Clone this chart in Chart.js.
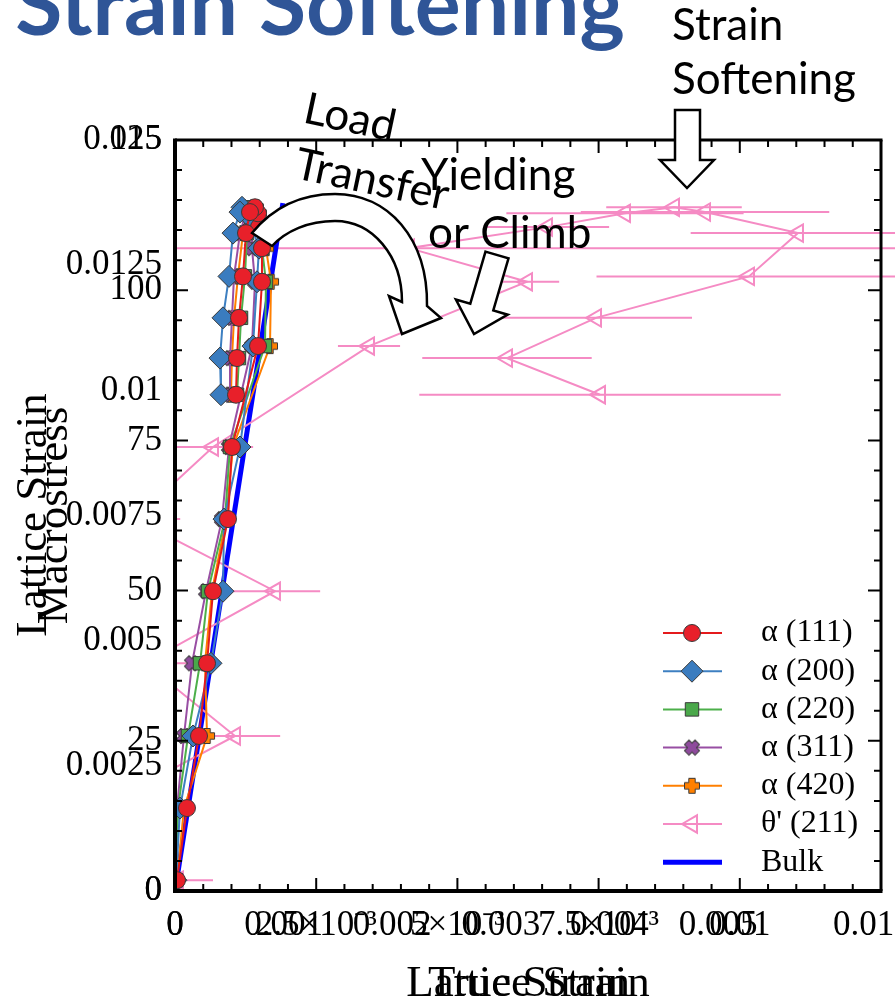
<!DOCTYPE html>
<html>
<head>
<meta charset="utf-8">
<script src="https://cdn.jsdelivr.net/npm/chart.js@4.4.1/dist/chart.umd.min.js"></script>
<style>
  html, body { margin: 0; padding: 0; background: #fff; }
</style>
</head>
<body>
<canvas id="myChart" width="895" height="1007"></canvas>
<script>
// macrostress levels shared by every diffraction peak (MPa)
const stress = [1.8, 13.8, 25.8, 37.9, 49.9, 61.9, 73.9, 90.7, 101.4, 107.0, 110.5, 112.8, 113.8, 113.0, 109.5, 102.3, 95.4, 88.7, 82.6];

// lattice strain of each peak at those stress levels
const a111 = [0.000035, 0.000212, 0.000425, 0.000567, 0.000673, 0.000938, 0.001009, 0.00147, 0.00154, 0.00154, 0.001487, 0.00147, 0.001416, 0.001328, 0.001257, 0.001204, 0.001133, 0.001098, 0.00108];
const a200 = [0.000018, 0.000089, 0.000319, 0.000637, 0.00085, 0.000868, 0.001151, 0.001381, 0.001452, 0.001487, 0.001363, 0.001257, 0.001186, 0.001151, 0.001027, 0.000956, 0.00085, 0.000797, 0.000814];
const a220 = [0.000018, 0.000053, 0.00023, 0.000443, 0.000584, 0.000885, 0.000974, 0.001593, 0.001611, 0.00154, 0.00147, 0.001434, 0.001381, 0.00131, 0.001275, 0.001239, 0.001169, 0.001133, 0.001098];
const a311 = [0.000018, 0.000035, 0.000159, 0.000301, 0.000549, 0.000832, 0.000956, 0.001363, 0.001416, 0.001363, 0.001363, 0.001328, 0.001292, 0.001257, 0.001151, 0.001045, 0.001009, 0.000974, 0.000974];
const a420 = [0.000035, 0.000159, 0.000567, 0.000531, 0.000655, 0.000903, 0.001027, 0.001682, 0.0017, 0.001611, 0.00154, 0.001487, 0.001434, 0.001363, 0.001204, 0.001115, 0.001045, 0.001009, 0.000991];
const theta211 = [0.000053, -0.001363, 0.001062, -0.000531, 0.00177, -0.000708, 0.000673, 0.003435, 0.006232, 0.004143, 0.006586, 0.007967, 0.008835, 0.009384, 0.01103, 0.010163, 0.007454, 0.005878, 0.007525];
const theta211Err = [0.00062, 0.0008, 0.0008, 0.0008, 0.0008, 0.0008, 0.00071, 0.00055, 0.00057, 0.0095, 0.0011, 0.0021, 0.0012, 0.0022, 0.0019, 0.0027, 0.0017, 0.0015, 0.0032];

// bulk elastic response
const bulkStrain = [0, 0.00191];
const bulkStress = [0, 114.5];

// tick labels
const latticeXLabels = ['0', '2.5×10⁻³', '5×10⁻³', '7.5×10⁻³', '0.01', '0.0125'];
const trueStrainLabels = ['0', '0.001', '0.002', '0.003', '0.004', '0.005', '0.006'];
const stressLabels = ['0', '25', '50', '75', '100', '125'];
const latticeYLabels = ['0', '0.0025', '0.005', '0.0075', '0.01', '0.0125', '0.015'];

const SERIF = "'Liberation Serif', 'Times New Roman', serif";
const SANS = "Lato, 'Open Sans', sans-serif";
const PINK = '#f58bc4';

const pairs = (xs, ys) => xs.map((v, i) => ({x: v, y: ys[i]}));

// filled cross / plus markers with a dark outline
function shapeMarker(fill, angle) {
  const c = document.createElement('canvas');
  c.width = 20; c.height = 20;
  const g = c.getContext('2d');
  const a = 3.2, L = 7.5;
  const pts = [[-a,-L],[a,-L],[a,-a],[L,-a],[L,a],[a,a],[a,L],[-a,L],[-a,a],[-L,a],[-L,-a],[-a,-a]];
  g.translate(10, 10);
  g.rotate(angle);
  g.beginPath();
  pts.forEach((p, i) => i ? g.lineTo(p[0], p[1]) : g.moveTo(p[0], p[1]));
  g.closePath();
  g.fillStyle = fill;
  g.fill();
  g.lineWidth = 1;
  g.strokeStyle = '#3a3a3a';
  g.stroke();
  return c;
}

function peak(label, strains, color, fill, style, radius) {
  return {
    label: label,
    data: pairs(strains, stress),
    showLine: true,
    borderColor: color,
    borderWidth: 2,
    pointStyle: style,
    pointRadius: radius,
    pointBackgroundColor: fill,
    pointBorderColor: '#3a3a3a',
    pointBorderWidth: 1
  };
}

const datasets = [
  peak('α (111)', a111, '#e41a1c', '#e8202a', 'circle', 8.5),
  peak('α (200)', a200, '#3d7fc1', '#3a7cbf', 'rectRot', 11),
  peak('α (220)', a220, '#4daf4a', '#4aa84a', 'rect', 9.5),
  peak('α (311)', a311, '#984ea3', '#8e4a9c', shapeMarker('#8e4a9c', Math.PI / 4), 8),
  peak('α (420)', a420, '#ff7f00', '#ff8000', shapeMarker('#ff8000', 0), 8),
  {
    label: "θ' (211)",
    data: pairs(theta211, stress),
    showLine: true,
    borderColor: PINK,
    borderWidth: 2,
    pointStyle: 'triangle',
    pointRotation: -90,
    pointRadius: 10,
    pointBackgroundColor: 'rgba(0,0,0,0)',
    pointBorderColor: PINK,
    pointBorderWidth: 2,
    clip: {left: 0, top: false, right: false, bottom: 0}
  },
  {
    label: 'Bulk',
    data: pairs(bulkStrain, bulkStress),
    showLine: true,
    borderColor: '#0000ff',
    borderWidth: 5,
    pointRadius: 0
  }
];

// the second x and y scales share the box of the first ones, so their labels overlap
const overlapAxes = {
  id: 'overlapAxes',
  afterLayout(chart) {
    const {x, x2, y, y2} = chart.scales;
    x2.top = x.top; x2.bottom = x.bottom; x2.height = x.height;
    y2.left = y.left; y2.right = y.right; y2.width = y.width;
  }
};

// horizontal error bars of the θ' peak, clipped only at the left axis
const errorBars = {
  id: 'errorBars',
  beforeDatasetsDraw(chart) {
    const {ctx, chartArea, scales: {x, y}} = chart;
    ctx.save();
    ctx.beginPath();
    ctx.rect(chartArea.left, 0, chart.width - chartArea.left, chart.height);
    ctx.clip();
    ctx.strokeStyle = PINK;
    ctx.lineWidth = 2;
    ctx.beginPath();
    theta211.forEach((v, i) => {
      const py = y.getPixelForValue(stress[i]);
      ctx.moveTo(x.getPixelForValue(v - theta211Err[i]), py);
      ctx.lineTo(x.getPixelForValue(v + theta211Err[i]), py);
    });
    ctx.stroke();
    ctx.restore();
  }
};

// box frame with inward tick marks on all four sides
const frame = {
  id: 'frame',
  afterDatasetsDraw(chart) {
    const {ctx, chartArea: a, scales: {x, y}} = chart;
    ctx.save();
    ctx.strokeStyle = '#000';
    ctx.lineWidth = 2;
    ctx.beginPath();
    y.ticks.forEach(t => {
      const py = y.getPixelForValue(t.value);
      const len = t.value % 25 === 0 ? 13 : 7;
      ctx.moveTo(a.left, py); ctx.lineTo(a.left + len, py);
      ctx.moveTo(a.right, py); ctx.lineTo(a.right - len, py);
    });
    x.ticks.forEach(t => {
      const px = x.getPixelForValue(t.value);
      const k = t.value / 0.0025;
      const len = Math.abs(k - Math.round(k)) < 1e-6 ? 13 : 7;
      ctx.moveTo(px, a.bottom); ctx.lineTo(px, a.bottom - len);
      ctx.moveTo(px, a.top); ctx.lineTo(px, a.top + len);
    });
    ctx.stroke();
    const side = (w, x1, y1, x2, y2) => {
      ctx.lineWidth = w;
      ctx.beginPath(); ctx.moveTo(x1, y1); ctx.lineTo(x2, y2); ctx.stroke();
    };
    side(4, a.left, a.top - 1.5, a.left, a.bottom + 2);
    side(4, a.left - 2, a.bottom, a.right + 1.5, a.bottom);
    side(3, a.left, a.top, a.right + 1.5, a.top);
    side(3, a.right, a.top, a.right, a.bottom);
    ctx.restore();
  }
};

function polygon(ctx, pts) {
  ctx.beginPath();
  pts.forEach((p, i) => i ? ctx.lineTo(p[0], p[1]) : ctx.moveTo(p[0], p[1]));
  ctx.closePath();
  ctx.fill();
  ctx.stroke();
}

// legend, second axis titles and slide call-outs
const overlay = {
  id: 'overlay',
  afterDraw(chart) {
    const {ctx} = chart;
    ctx.save();

    // legend with line + marker samples
    chart.data.datasets.forEach((ds, i) => {
      const row = 633 + i * 38.2;
      ctx.strokeStyle = ds.borderColor;
      ctx.lineWidth = ds.borderWidth;
      ctx.beginPath(); ctx.moveTo(663, row); ctx.lineTo(722, row); ctx.stroke();
      if (ds.pointRadius) {
        ctx.fillStyle = ds.pointBackgroundColor;
        ctx.strokeStyle = ds.pointBorderColor;
        ctx.lineWidth = ds.pointBorderWidth;
        Chart.helpers.drawPoint(ctx, {
          pointStyle: ds.pointStyle, rotation: ds.pointRotation || 0,
          radius: ds.pointRadius, borderWidth: ds.pointBorderWidth
        }, 692, row);
      }
      ctx.fillStyle = '#000';
      ctx.font = '32px ' + SERIF;
      ctx.textAlign = 'left';
      ctx.textBaseline = 'middle';
      ctx.fillText(ds.label, 761, row);
    });

    // titles of the overlaid strain axes
    ctx.font = '45px ' + SERIF;
    ctx.textAlign = 'center';
    ctx.textBaseline = 'middle';
    ctx.fillText('True Strain', 529, 984);
    ctx.save();
    ctx.translate(34, 515);
    ctx.rotate(-Math.PI / 2);
    ctx.fillText('Lattice Strain', 0, 0);
    ctx.restore();

    // slide heading, cut at the top edge
    ctx.fillStyle = '#2f5597';
    ctx.font = 'bold 86px ' + SANS;
    ctx.textAlign = 'right';
    ctx.textBaseline = 'alphabetic';
    ctx.fillText('Strain Softening', 625, 35);

    ctx.fillStyle = '#000';
    ctx.font = '44px ' + SANS;
    ctx.textAlign = 'left';
    ctx.fillText('Strain', 672, 40);
    ctx.fillText('Softening', 672, 94);
    ctx.fillText('Yielding', 421, 190);
    ctx.fillText('or Climb', 428, 248);

    ctx.save();
    ctx.translate(350, 118);
    ctx.rotate(12 * Math.PI / 180);
    ctx.textAlign = 'center';
    ctx.textBaseline = 'middle';
    ctx.fillText('Load', 0, 0);
    ctx.restore();
    ctx.save();
    ctx.translate(372, 180);
    ctx.rotate(12 * Math.PI / 180);
    ctx.textAlign = 'center';
    ctx.textBaseline = 'middle';
    ctx.fillText('Transfer', 0, 0);
    ctx.restore();

    // block arrows
    ctx.fillStyle = '#fff';
    ctx.strokeStyle = '#000';
    ctx.lineWidth = 2.5;
    ctx.lineJoin = 'miter';
    ctx.beginPath();
    ctx.moveTo(252, 233);
    ctx.bezierCurveTo(275, 205, 305, 194, 335, 194);
    ctx.bezierCurveTo(388, 194, 428, 238, 427, 306);
    ctx.lineTo(441, 318);
    ctx.lineTo(402, 334);
    ctx.lineTo(389, 296);
    ctx.lineTo(402, 302);
    ctx.bezierCurveTo(402, 255, 372, 221, 335, 221);
    ctx.bezierCurveTo(308, 221, 286, 231, 272, 246);
    ctx.closePath();
    ctx.fill();
    ctx.stroke();

    polygon(ctx, [[485.5, 251.6], [508.5, 258.4], [493.3, 310.5], [507.7, 314.7], [474, 334], [455.9, 299.5], [470.3, 303.7]]);
    polygon(ctx, [[675, 110], [700, 110], [700, 160], [714, 160], [687, 188], [660, 160], [675, 160]]);

    ctx.restore();
  }
};

const tickFont = {family: SERIF, size: 35};
const titleFont = {family: SERIF, size: 45, lineHeight: 1};
const noGrid = {display: false, drawTicks: false};

const fitX = h => s => { s.height = h; s.paddingLeft = 0; s.paddingRight = 0; };
const fitY = w => s => { s.width = w; s.paddingTop = 0; s.paddingBottom = 0; };

const config = {
  type: 'scatter',
  data: {datasets: datasets},
  options: {
    responsive: false,
    animation: false,
    events: [],
    layout: {padding: {top: 140, right: 14, left: 0, bottom: 0}},
    plugins: {legend: {display: false}, tooltip: {enabled: false}},
    scales: {
      x: {
        type: 'linear', position: 'bottom', weight: 1,
        min: 0, max: 0.0125,
        afterFit: fitX(116),
        grid: noGrid, border: {display: false},
        ticks: {
          stepSize: 0.0005, maxTicksLimit: 100, autoSkip: false, maxRotation: 0,
          padding: 14, font: tickFont, color: '#000',
          callback: v => {
            const k = Math.round(v / 0.0025);
            return Math.abs(v - k * 0.0025) < 1e-9 ? latticeXLabels[k] : '';
          }
        },
        title: {display: true, text: 'Lattice Strain', font: titleFont, color: '#000', padding: {top: 0, bottom: 0}}
      },
      x2: {
        type: 'linear', position: 'bottom', weight: 0,
        min: 0, max: 0.0065,
        afterFit: fitX(0),
        grid: noGrid, border: {display: false},
        ticks: {
          stepSize: 0.001, maxTicksLimit: 100, autoSkip: false, maxRotation: 0,
          padding: 14, font: tickFont, color: '#000',
          callback: v => {
            const k = Math.round(v / 0.001);
            return Math.abs(v - k * 0.001) < 1e-9 ? trueStrainLabels[k] : '';
          }
        }
      },
      y: {
        type: 'linear', position: 'left', weight: 1,
        min: 0, max: 125,
        afterFit: fitY(175),
        grid: noGrid, border: {display: false},
        ticks: {
          stepSize: 5, maxTicksLimit: 100, autoSkip: false,
          padding: 13, font: tickFont, color: '#000',
          callback: v => v % 25 === 0 ? stressLabels[v / 25] : ''
        },
        title: {display: true, text: 'Macrostress', font: titleFont, color: '#000', padding: {top: 33, bottom: 0}}
      },
      y2: {
        type: 'linear', position: 'left', weight: 0,
        min: 0, max: 0.015,
        afterFit: fitY(0),
        grid: noGrid, border: {display: false},
        ticks: {
          stepSize: 0.0025, maxTicksLimit: 100, autoSkip: false,
          padding: 13, font: tickFont, color: '#000',
          callback: v => {
            const k = Math.round(v / 0.0025);
            return Math.abs(v - k * 0.0025) < 1e-9 ? latticeYLabels[k] : '';
          }
        }
      }
    }
  },
  plugins: [overlapAxes, errorBars, frame, overlay]
};

new Chart(document.getElementById('myChart'), config);
</script>
</body>
</html>
